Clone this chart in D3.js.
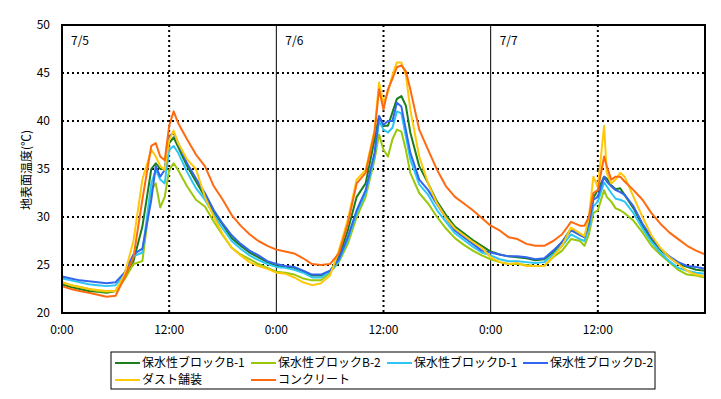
<!DOCTYPE html>
<html>
<head>
<meta charset="utf-8">
<style>
    body { margin: 0; background: #fff; }
    svg { font-family: "Noto Sans CJK JP", "DejaVu Sans", sans-serif; }
</style>
</head>
<body>
<svg width="721" height="399"></svg>
<script src="https://d3js.org/d3.v7.min.js"></script>
<script>
// time in hours since 7/5 0:00
let hours = [0,1,2,3,4,5,6,7,8,9,10,10.5,11,11.5,12,12.5,13,14,15,16,17,18,19,20,21,22,23,
    24,25,26,27,28,29,30,31,32,33,34,35,35.5,36,36.5,37,37.5,38,38.5,39,40,41,42,43,44,45,46,47,
    48,49,50,51,52,53,54,55,56,57,58,58.5,59,59.5,60,60.7,61,61.5,62,62.5,63,64,65,66,67,68,69,70,71,72];

let seriesNames = ["保水性ブロックB-1", "保水性ブロックB-2", "保水性ブロックD-1", "保水性ブロックD-2", "ダスト舗装", "コンクリート"];
let seriesColors = ["#1a7f1a", "#99c70a", "#2cc6f5", "#3366ee", "#ffc80a", "#ff6a10"];

let b1 = [23.0,22.7,22.5,22.3,22.2,22.1,22.3,23.8,25.4,29.0,35.0,35.6,35.0,35.0,37.7,38.3,37.3,35.3,33.7,32.1,30.5,29.2,27.8,27.0,26.3,25.8,25.3,
    24.9,24.8,24.7,24.3,23.9,23.9,24.3,25.8,28.6,32.1,33.5,38.1,40.5,39.5,39.5,40.9,42.3,42.6,41.6,38.8,35.3,33.5,31.6,30.2,29.0,28.3,27.6,27.0,
    26.4,26.1,25.9,25.8,25.7,25.5,25.6,26.3,27.4,28.8,28.2,27.9,29.3,32.0,32.8,34.2,34.0,33.3,32.9,33.0,32.3,30.9,29.1,27.7,26.6,25.8,25.1,24.8,24.5,24.4];
let b2 = [23.2,22.9,22.7,22.5,22.3,22.2,22.3,23.5,25.1,25.4,32.8,33.5,31.0,32.1,34.9,35.6,34.9,33.2,31.8,31.1,29.5,28.1,26.8,26.1,25.6,25.1,24.7,
    24.3,24.2,24.0,23.6,23.4,23.4,24.2,25.3,27.2,30.0,32.1,36.0,38.6,37.0,36.3,38.1,39.1,38.9,37.0,34.6,32.5,31.4,30.0,28.8,27.8,27.1,26.5,26.0,
    25.6,25.3,25.1,25.1,25.0,24.9,24.9,25.8,26.5,27.7,27.5,27.0,28.2,30.4,30.7,32.8,32.1,31.6,30.9,30.7,30.4,29.6,28.4,27.0,26.1,25.3,24.5,24.0,23.9,23.7];
let d1 = [23.6,23.4,23.2,23.0,22.9,22.8,22.9,24.0,25.9,26.3,33.5,34.9,33.9,33.5,37.0,37.4,36.7,34.7,33.0,31.8,30.2,28.8,27.5,26.7,26.0,25.5,25.1,
    24.8,24.7,24.5,24.2,23.7,23.7,24.3,25.4,27.6,30.4,32.5,36.3,40.0,39.1,38.8,39.3,41.0,40.8,38.4,36.0,33.4,32.3,30.7,29.5,28.3,27.6,26.9,26.3,
    26.0,25.6,25.4,25.4,25.3,25.2,25.3,26.1,27.0,28.2,27.7,27.5,28.8,31.1,31.6,33.6,33.2,32.5,31.9,31.8,31.6,30.4,28.8,27.4,26.3,25.4,24.7,24.4,24.2,24.1];
let d2 = [23.8,23.6,23.4,23.3,23.2,23.1,23.2,24.2,26.1,26.7,31.8,35.3,34.2,34.9,38.4,38.8,37.7,35.6,34.0,32.5,30.7,29.3,28.1,27.2,26.5,26.0,25.4,
    25.1,24.9,24.8,24.4,24.0,24.0,24.4,25.6,27.9,30.7,32.8,36.7,40.5,39.6,40.0,40.0,41.9,41.5,39.1,36.7,33.9,32.8,31.3,29.9,28.6,27.9,27.2,26.5,
    26.3,26.1,25.9,25.9,25.8,25.6,25.7,26.5,27.4,28.6,28.1,27.9,29.3,31.8,32.1,34.2,33.7,33.2,32.8,32.6,32.3,31.1,29.3,27.9,26.7,25.9,25.3,24.9,24.8,24.6];
let dust = [23.2,22.9,22.7,22.5,22.4,22.3,22.3,24.0,27.5,33.9,37.0,36.3,35.3,34.9,38.0,39.0,37.7,36.0,35.0,32.1,30.0,28.2,26.8,26.0,25.3,24.9,24.6,
    24.2,24.1,23.7,23.2,22.9,23.1,23.9,26.5,29.7,33.9,34.9,39.1,44.0,41.9,43.0,44.8,46.1,46.1,44.8,41.2,36.3,33.5,31.4,29.9,28.8,28.1,27.4,26.8,
    25.8,25.3,25.1,25.2,24.9,24.9,24.9,25.9,27.0,28.9,28.3,28.0,30.0,34.2,33.1,39.5,34.6,33.5,33.9,34.6,34.2,32.1,30.0,28.1,26.8,25.8,25.1,24.4,24.0,23.8];
let concrete = [22.8,22.5,22.3,22.1,21.9,21.7,21.8,23.7,25.8,31.8,37.4,37.7,36.3,35.9,39.5,41.0,39.8,38.1,36.5,35.3,33.2,31.8,30.2,29.1,28.2,27.5,27.0,
    26.6,26.4,26.2,25.7,25.1,25.0,25.1,26.2,29.3,33.5,34.6,38.8,43.3,41.2,43.3,44.4,45.6,45.8,45.2,43.3,39.1,37.0,34.9,33.2,32.1,31.4,30.7,29.9,
    29.1,28.6,27.9,27.7,27.2,27.0,27.0,27.5,28.2,29.5,29.1,29.1,30.0,32.5,32.8,36.3,35.3,33.9,34.2,34.2,33.7,32.8,31.8,30.4,29.3,28.4,27.7,27.0,26.5,26.1];

let yTicks = [20, 25, 30, 35, 40, 45, 50];
let xTicks = [0, 12, 24, 36, 48, 60];
let xTickLabels = ["0:00", "12:00", "0:00", "12:00", "0:00", "12:00"];
let dayLabels = ["7/5", "7/6", "7/7"];

let allSeries = [b1, b2, d1, d2, dust, concrete];

let svg = d3.select("svg");
let plotLeft = 62, plotRight = 705, plotTop = 25, plotBottom = 313;

let x = d3.scaleLinear().domain([0, 72]).range([plotLeft, plotRight]);
let y = d3.scaleLinear().domain([20, 50]).range([plotBottom, plotTop]);

// horizontal dotted grid
svg.append("g")
    .selectAll("line")
    .data(yTicks.filter(d => d > 20 && d < 50))
    .join("line")
    .attr("x1", plotLeft).attr("x2", plotRight)
    .attr("y1", d => y(d)).attr("y2", d => y(d))
    .style("stroke", "#000")
    .style("stroke-width", 2)
    .style("stroke-dasharray", "2,3");

// vertical lines: dotted at noon, solid at midnight
svg.append("g")
    .selectAll("line")
    .data(xTicks.filter(d => d > 0))
    .join("line")
    .attr("x1", d => x(d)).attr("x2", d => x(d))
    .attr("y1", plotTop).attr("y2", plotBottom)
    .style("stroke", "#000")
    .style("stroke-width", d => d % 24 == 0 ? 1 : 2)
    .style("stroke-dasharray", d => d % 24 == 0 ? null : "2,3");

// day labels
svg.append("g")
    .selectAll("text")
    .data(dayLabels)
    .join("text")
    .attr("x", (d, i) => x(i * 24) + 9)
    .attr("y", 45)
    .style("font-size", "12px")
    .text(d => d);

// series lines
let line = d3.line()
    .x((d, i) => x(hours[i]))
    .y(d => y(d));

svg.append("g")
    .selectAll("path")
    .data(allSeries)
    .join("path")
    .attr("d", d => line(d))
    .style("fill", "none")
    .style("stroke", (d, i) => seriesColors[i])
    .style("stroke-width", 2)
    .style("stroke-linejoin", "round");

// plot border
svg.append("rect")
    .attr("x", plotLeft).attr("y", plotTop)
    .attr("width", plotRight - plotLeft).attr("height", plotBottom - plotTop)
    .style("fill", "none")
    .style("stroke", "#000")
    .style("stroke-width", 2);

// y tick labels
svg.append("g")
    .selectAll("text")
    .data(yTicks)
    .join("text")
    .attr("x", 50)
    .attr("y", d => y(d) + 4)
    .attr("text-anchor", "end")
    .style("font-size", "12px")
    .text(d => d);

// x tick labels
svg.append("g")
    .selectAll("text")
    .data(xTicks)
    .join("text")
    .attr("x", d => x(d))
    .attr("y", 334)
    .attr("text-anchor", "middle")
    .style("font-size", "12px")
    .text((d, i) => xTickLabels[i]);

// y axis title
svg.append("text")
    .attr("transform", "translate(31,170) rotate(-90)")
    .attr("text-anchor", "middle")
    .style("font-size", "12px")
    .text("地表面温度(℃)");

// legend
svg.append("rect")
    .attr("x", 111).attr("y", 352)
    .attr("width", 544).attr("height", 37)
    .style("fill", "#fff")
    .style("stroke", "#000")
    .style("stroke-width", 1);

let legend = svg.append("g")
    .selectAll("g")
    .data(seriesNames)
    .join("g")
    .attr("transform", (d, i) => "translate(" + (115 + (i % 4) * 136) + "," + (363 + Math.floor(i / 4) * 17) + ")");

legend.append("line")
    .attr("x1", 0).attr("x2", 25)
    .style("stroke", (d, i) => seriesColors[i])
    .style("stroke-width", 2);

legend.append("text")
    .attr("x", 27)
    .attr("y", 4)
    .style("font-size", "12px")
    .text(d => d);
</script>
</body>
</html>
